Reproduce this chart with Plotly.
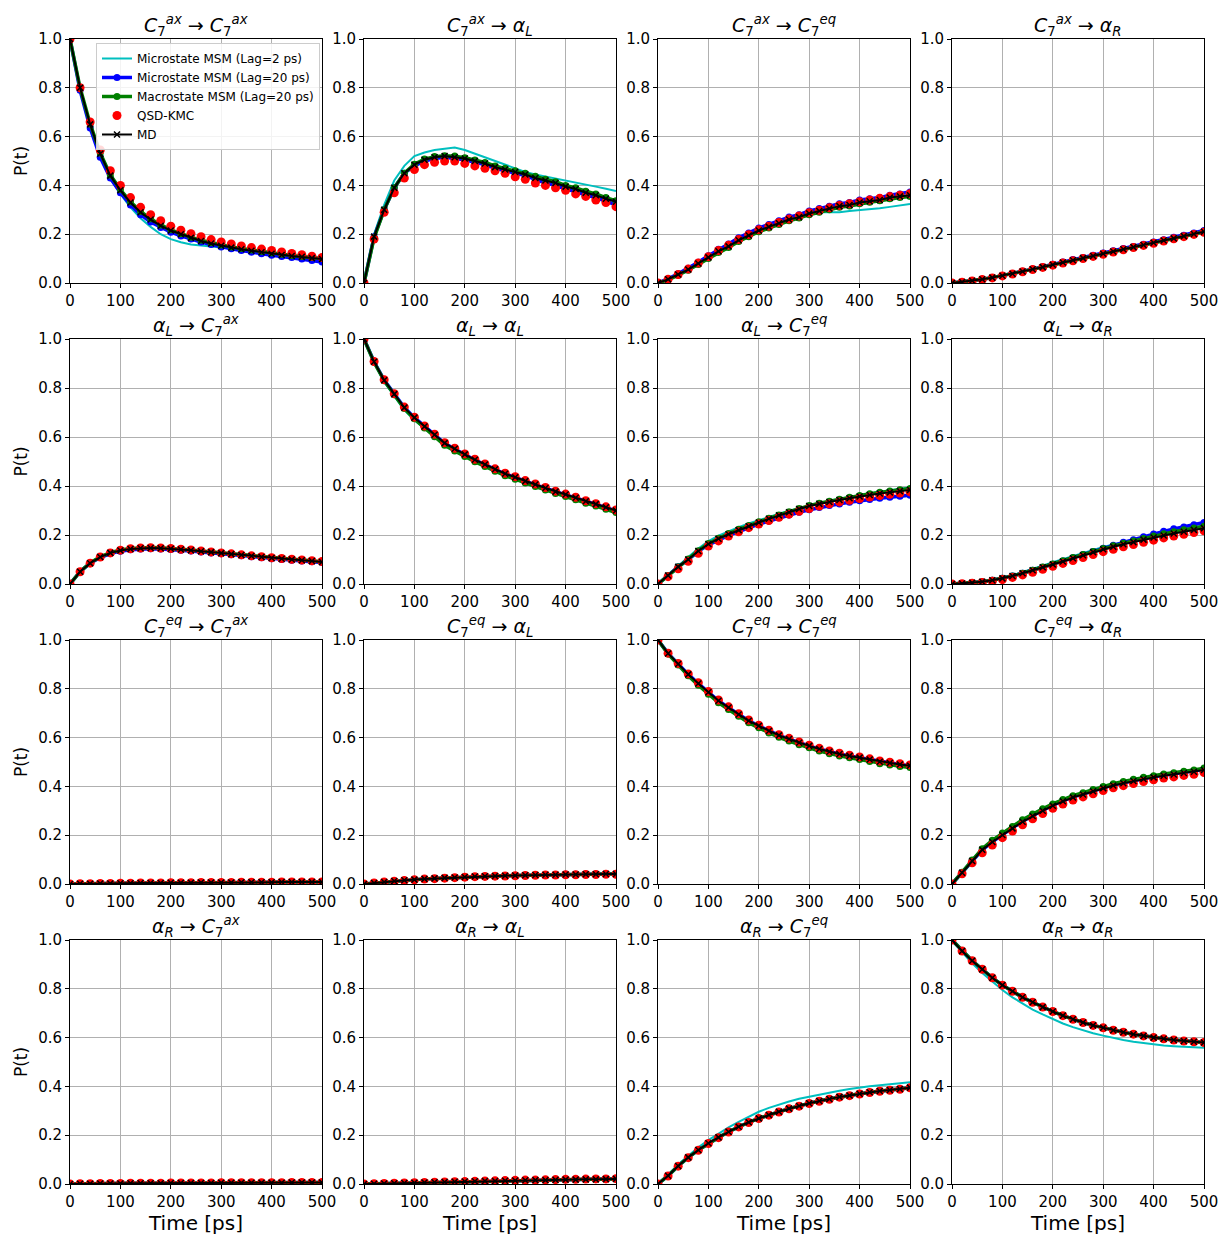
import plotly.graph_objects as go

W, H = 1222, 1235

# ---------------- data ----------------
time_ps = [0, 20, 40, 60, 80, 100, 120, 140, 160, 180, 200, 220, 240, 260, 280, 300,
           320, 340, 360, 380, 400, 420, 440, 460, 480, 500]

state_labels = {
    "ax": "<i>C</i><sub>7</sub><sup><i>ax</i></sup>",
    "aL": "<i>α</i><sub><i>L</i></sub>",
    "eq": "<i>C</i><sub>7</sub><sup><i>eq</i></sup>",
    "aR": "<i>α</i><sub><i>R</i></sub>",
}
states = ["ax", "aL", "eq", "aR"]

series_names = ["Microstate MSM (Lag=2 ps)", "Microstate MSM (Lag=20 ps)",
                "Macrostate MSM (Lag=20 ps)", "QSD-KMC", "MD"]

# C7ax -> C7ax
mic2_ax_ax = [1.0, 0.80, 0.645, 0.525, 0.43, 0.365, 0.31, 0.265, 0.23, 0.20, 0.18, 0.167, 0.158, 0.153, 0.149, 0.146, 0.142, 0.137, 0.132, 0.127, 0.122, 0.117, 0.112, 0.107, 0.102, 0.097]
mic20_ax_ax = [1.0, 0.79, 0.635, 0.515, 0.43, 0.37, 0.32, 0.28, 0.25, 0.227, 0.208, 0.193, 0.18, 0.168, 0.158, 0.148, 0.14, 0.133, 0.126, 0.12, 0.114, 0.109, 0.104, 0.098, 0.092, 0.086]
mac20_ax_ax = [1.0, 0.80, 0.652, 0.533, 0.443, 0.383, 0.333, 0.293, 0.263, 0.238, 0.218, 0.202, 0.188, 0.175, 0.165, 0.156, 0.148, 0.141, 0.135, 0.129, 0.123, 0.118, 0.113, 0.109, 0.104, 0.10]
qsd_ax_ax = [1.0, 0.80, 0.66, 0.545, 0.46, 0.40, 0.35, 0.31, 0.28, 0.255, 0.233, 0.216, 0.202, 0.19, 0.178, 0.168, 0.16, 0.152, 0.145, 0.139, 0.133, 0.127, 0.121, 0.116, 0.11, 0.105]
md_ax_ax = [1.0, 0.80, 0.65, 0.53, 0.44, 0.38, 0.33, 0.29, 0.26, 0.235, 0.215, 0.20, 0.185, 0.172, 0.162, 0.153, 0.145, 0.138, 0.132, 0.126, 0.12, 0.115, 0.111, 0.107, 0.102, 0.098]

# C7ax -> aL
mic2_ax_aL = [0, 0.20, 0.32, 0.42, 0.48, 0.52, 0.535, 0.545, 0.55, 0.555, 0.545, 0.53, 0.515, 0.50, 0.485, 0.47, 0.455, 0.445, 0.437, 0.43, 0.422, 0.413, 0.404, 0.395, 0.386, 0.377]
mic20_ax_aL = [0, 0.19, 0.30, 0.39, 0.45, 0.48, 0.50, 0.51, 0.515, 0.51, 0.505, 0.495, 0.485, 0.47, 0.46, 0.45, 0.44, 0.425, 0.41, 0.40, 0.385, 0.375, 0.36, 0.35, 0.335, 0.32]
mac20_ax_aL = [0, 0.185, 0.30, 0.39, 0.45, 0.487, 0.508, 0.518, 0.522, 0.52, 0.513, 0.504, 0.494, 0.48, 0.47, 0.46, 0.45, 0.437, 0.425, 0.415, 0.40, 0.39, 0.376, 0.365, 0.35, 0.337]
qsd_ax_aL = [0, 0.18, 0.29, 0.37, 0.43, 0.465, 0.485, 0.495, 0.50, 0.50, 0.49, 0.48, 0.47, 0.46, 0.45, 0.435, 0.425, 0.41, 0.40, 0.39, 0.38, 0.365, 0.355, 0.34, 0.33, 0.313]
md_ax_aL = [0, 0.19, 0.30, 0.39, 0.45, 0.485, 0.505, 0.515, 0.52, 0.515, 0.51, 0.50, 0.49, 0.475, 0.465, 0.455, 0.445, 0.43, 0.42, 0.41, 0.395, 0.385, 0.37, 0.36, 0.345, 0.333]

# C7ax -> C7eq
mic2_ax_eq = [0, 0.013, 0.03, 0.05, 0.075, 0.10, 0.13, 0.155, 0.18, 0.20, 0.22, 0.237, 0.25, 0.265, 0.275, 0.285, 0.29, 0.29, 0.29, 0.295, 0.298, 0.302, 0.306, 0.312, 0.318, 0.324]
mic20_ax_eq = [0, 0.017, 0.038, 0.06, 0.085, 0.112, 0.138, 0.16, 0.185, 0.205, 0.225, 0.24, 0.255, 0.27, 0.28, 0.295, 0.305, 0.315, 0.325, 0.33, 0.34, 0.345, 0.35, 0.36, 0.365, 0.373]
mac20_ax_eq = [0, 0.013, 0.032, 0.052, 0.076, 0.10, 0.125, 0.146, 0.17, 0.19, 0.21, 0.225, 0.24, 0.255, 0.266, 0.28, 0.29, 0.30, 0.31, 0.316, 0.325, 0.331, 0.337, 0.345, 0.35, 0.355]
qsd_ax_eq = [0, 0.015, 0.035, 0.057, 0.082, 0.108, 0.133, 0.155, 0.178, 0.198, 0.218, 0.233, 0.248, 0.262, 0.275, 0.288, 0.298, 0.308, 0.318, 0.325, 0.333, 0.34, 0.347, 0.354, 0.36, 0.366]
md_ax_eq = [0, 0.015, 0.035, 0.055, 0.08, 0.105, 0.13, 0.15, 0.175, 0.195, 0.215, 0.23, 0.245, 0.26, 0.27, 0.285, 0.295, 0.305, 0.315, 0.32, 0.33, 0.335, 0.34, 0.35, 0.355, 0.36]

# C7ax -> aR
mic2_ax_aR = [0, 0.004, 0.009, 0.015, 0.022, 0.03, 0.038, 0.047, 0.056, 0.065, 0.075, 0.084, 0.093, 0.102, 0.111, 0.12, 0.129, 0.138, 0.147, 0.156, 0.165, 0.174, 0.183, 0.192, 0.201, 0.21]
mic20_ax_aR = [0, 0.004, 0.009, 0.015, 0.022, 0.03, 0.039, 0.048, 0.057, 0.067, 0.077, 0.086, 0.096, 0.105, 0.114, 0.123, 0.132, 0.141, 0.15, 0.159, 0.168, 0.177, 0.187, 0.196, 0.205, 0.215]
mac20_ax_aR = [0, 0.004, 0.009, 0.015, 0.022, 0.03, 0.038, 0.047, 0.056, 0.065, 0.074, 0.083, 0.092, 0.101, 0.11, 0.119, 0.128, 0.137, 0.146, 0.155, 0.164, 0.173, 0.182, 0.191, 0.2, 0.209]
qsd_ax_aR = [0, 0.003, 0.008, 0.014, 0.021, 0.029, 0.037, 0.046, 0.055, 0.064, 0.073, 0.082, 0.091, 0.1, 0.109, 0.118, 0.127, 0.136, 0.145, 0.154, 0.163, 0.172, 0.181, 0.19, 0.199, 0.208]
md_ax_aR = [0, 0.004, 0.009, 0.015, 0.022, 0.03, 0.038, 0.047, 0.056, 0.065, 0.075, 0.084, 0.093, 0.102, 0.111, 0.12, 0.129, 0.138, 0.147, 0.156, 0.165, 0.174, 0.183, 0.192, 0.201, 0.21]

# aL -> C7ax
mic2_aL_ax = [0, 0.052, 0.088, 0.112, 0.128, 0.138, 0.144, 0.147, 0.148, 0.147, 0.145, 0.142, 0.138, 0.134, 0.13, 0.126, 0.122, 0.118, 0.114, 0.11, 0.106, 0.102, 0.099, 0.096, 0.093, 0.09]
mic20_aL_ax = [0, 0.05, 0.085, 0.108, 0.124, 0.134, 0.14, 0.143, 0.144, 0.143, 0.141, 0.138, 0.135, 0.131, 0.127, 0.123, 0.119, 0.115, 0.111, 0.107, 0.103, 0.1, 0.097, 0.094, 0.091, 0.088]
mac20_aL_ax = [0, 0.05, 0.086, 0.111, 0.128, 0.139, 0.145, 0.148, 0.149, 0.148, 0.146, 0.143, 0.139, 0.135, 0.131, 0.127, 0.123, 0.119, 0.115, 0.111, 0.107, 0.104, 0.101, 0.098, 0.095, 0.091]
qsd_aL_ax = [0, 0.05, 0.085, 0.11, 0.127, 0.138, 0.144, 0.147, 0.148, 0.147, 0.145, 0.142, 0.139, 0.135, 0.131, 0.127, 0.123, 0.119, 0.115, 0.111, 0.107, 0.104, 0.101, 0.098, 0.095, 0.092]
md_aL_ax = [0, 0.05, 0.085, 0.11, 0.127, 0.137, 0.143, 0.146, 0.147, 0.146, 0.144, 0.141, 0.138, 0.134, 0.13, 0.126, 0.122, 0.118, 0.114, 0.11, 0.106, 0.103, 0.1, 0.097, 0.094, 0.09]

# aL -> aL
mic2_aL_aL = [1.0, 0.905, 0.825, 0.765, 0.71, 0.668, 0.634, 0.602, 0.57, 0.549, 0.527, 0.505, 0.486, 0.466, 0.448, 0.434, 0.418, 0.404, 0.39, 0.375, 0.363, 0.35, 0.336, 0.324, 0.311, 0.298]
mic20_aL_aL = [1.0, 0.907, 0.832, 0.775, 0.72, 0.679, 0.643, 0.609, 0.574, 0.551, 0.528, 0.506, 0.487, 0.467, 0.449, 0.435, 0.419, 0.405, 0.391, 0.376, 0.364, 0.351, 0.337, 0.325, 0.312, 0.299]
mac20_aL_aL = [1.0, 0.905, 0.83, 0.772, 0.716, 0.674, 0.637, 0.601, 0.566, 0.543, 0.52, 0.499, 0.48, 0.46, 0.442, 0.428, 0.412, 0.398, 0.384, 0.369, 0.357, 0.344, 0.33, 0.318, 0.305, 0.292]
qsd_aL_aL = [1.0, 0.908, 0.834, 0.777, 0.722, 0.681, 0.645, 0.611, 0.577, 0.554, 0.531, 0.509, 0.49, 0.47, 0.452, 0.438, 0.422, 0.408, 0.394, 0.379, 0.367, 0.354, 0.34, 0.328, 0.315, 0.302]
md_aL_aL = [1.0, 0.907, 0.832, 0.775, 0.72, 0.679, 0.643, 0.609, 0.575, 0.552, 0.529, 0.507, 0.488, 0.468, 0.45, 0.436, 0.42, 0.406, 0.392, 0.377, 0.365, 0.352, 0.338, 0.326, 0.313, 0.30]

# aL -> C7eq
mic2_aL_eq = [0, 0.038, 0.076, 0.11, 0.145, 0.175, 0.197, 0.215, 0.232, 0.247, 0.261, 0.274, 0.287, 0.299, 0.31, 0.321, 0.331, 0.34, 0.348, 0.356, 0.363, 0.37, 0.377, 0.383, 0.389, 0.395]
mic20_aL_eq = [0, 0.035, 0.07, 0.10, 0.133, 0.16, 0.18, 0.198, 0.214, 0.23, 0.244, 0.257, 0.27, 0.282, 0.293, 0.303, 0.312, 0.32, 0.327, 0.334, 0.34, 0.345, 0.35, 0.354, 0.358, 0.362]
mac20_aL_eq = [0, 0.035, 0.07, 0.102, 0.136, 0.165, 0.187, 0.206, 0.223, 0.239, 0.254, 0.268, 0.282, 0.295, 0.308, 0.32, 0.33, 0.338, 0.346, 0.354, 0.361, 0.368, 0.374, 0.38, 0.385, 0.39]
qsd_aL_eq = [0, 0.03, 0.062, 0.093, 0.125, 0.155, 0.176, 0.196, 0.213, 0.23, 0.245, 0.259, 0.272, 0.285, 0.297, 0.308, 0.318, 0.327, 0.335, 0.342, 0.349, 0.355, 0.361, 0.366, 0.371, 0.376]
md_aL_eq = [0, 0.035, 0.07, 0.10, 0.135, 0.163, 0.185, 0.203, 0.22, 0.236, 0.251, 0.266, 0.28, 0.293, 0.306, 0.318, 0.327, 0.335, 0.343, 0.35, 0.357, 0.363, 0.369, 0.374, 0.379, 0.384]

# aL -> aR
mic2_aL_aR = [0, 0.002, 0.005, 0.01, 0.016, 0.025, 0.036, 0.048, 0.061, 0.075, 0.089, 0.102, 0.115, 0.128, 0.14, 0.151, 0.161, 0.171, 0.181, 0.191, 0.2, 0.209, 0.217, 0.225, 0.232, 0.239]
mic20_aL_aR = [0, 0.002, 0.005, 0.009, 0.015, 0.023, 0.033, 0.044, 0.056, 0.068, 0.081, 0.094, 0.107, 0.12, 0.133, 0.146, 0.158, 0.17, 0.181, 0.193, 0.204, 0.215, 0.225, 0.233, 0.242, 0.251]
mac20_aL_aR = [0, 0.002, 0.005, 0.009, 0.015, 0.023, 0.033, 0.044, 0.056, 0.069, 0.082, 0.095, 0.108, 0.12, 0.133, 0.145, 0.156, 0.166, 0.176, 0.186, 0.196, 0.205, 0.213, 0.221, 0.229, 0.236]
qsd_aL_aR = [0, 0.001, 0.003, 0.006, 0.011, 0.018, 0.027, 0.037, 0.048, 0.06, 0.072, 0.084, 0.096, 0.108, 0.12, 0.132, 0.142, 0.152, 0.161, 0.17, 0.179, 0.188, 0.196, 0.203, 0.21, 0.217]
md_aL_aR = [0, 0.002, 0.005, 0.009, 0.015, 0.023, 0.033, 0.044, 0.056, 0.068, 0.08, 0.092, 0.105, 0.117, 0.13, 0.142, 0.152, 0.162, 0.171, 0.181, 0.19, 0.198, 0.206, 0.213, 0.221, 0.228]

# C7eq -> C7ax
mic2_eq_ax = [0, 0.001, 0.001, 0.002, 0.002, 0.003, 0.003, 0.004, 0.004, 0.004, 0.005, 0.005, 0.005, 0.006, 0.006, 0.006, 0.006, 0.007, 0.007, 0.007, 0.007, 0.008, 0.008, 0.008, 0.008, 0.008]
mic20_eq_ax = [0, 0.001, 0.001, 0.002, 0.002, 0.003, 0.003, 0.004, 0.004, 0.004, 0.005, 0.005, 0.005, 0.006, 0.006, 0.006, 0.006, 0.007, 0.007, 0.007, 0.007, 0.008, 0.008, 0.008, 0.008, 0.008]
mac20_eq_ax = [0, 0.001, 0.001, 0.002, 0.002, 0.003, 0.003, 0.004, 0.004, 0.004, 0.005, 0.005, 0.005, 0.006, 0.006, 0.006, 0.006, 0.007, 0.007, 0.007, 0.007, 0.008, 0.008, 0.008, 0.008, 0.008]
qsd_eq_ax = [0, 0.001, 0.001, 0.002, 0.002, 0.003, 0.003, 0.004, 0.004, 0.004, 0.005, 0.005, 0.005, 0.006, 0.006, 0.006, 0.006, 0.007, 0.007, 0.007, 0.007, 0.008, 0.008, 0.008, 0.008, 0.008]
md_eq_ax = [0, 0.001, 0.001, 0.002, 0.002, 0.003, 0.003, 0.004, 0.004, 0.004, 0.005, 0.005, 0.005, 0.006, 0.006, 0.006, 0.006, 0.007, 0.007, 0.007, 0.007, 0.008, 0.008, 0.008, 0.008, 0.008]

# C7eq -> aL
mic2_eq_aL = [0, 0.004, 0.008, 0.012, 0.015, 0.018, 0.021, 0.023, 0.025, 0.027, 0.029, 0.031, 0.032, 0.033, 0.034, 0.035, 0.036, 0.037, 0.038, 0.038, 0.039, 0.039, 0.04, 0.04, 0.041, 0.041]
mic20_eq_aL = [0, 0.004, 0.008, 0.012, 0.015, 0.018, 0.021, 0.023, 0.025, 0.027, 0.029, 0.031, 0.032, 0.033, 0.034, 0.035, 0.036, 0.037, 0.038, 0.039, 0.04, 0.04, 0.041, 0.041, 0.042, 0.042]
mac20_eq_aL = [0, 0.004, 0.008, 0.012, 0.015, 0.018, 0.021, 0.023, 0.025, 0.027, 0.029, 0.031, 0.032, 0.033, 0.034, 0.035, 0.036, 0.037, 0.038, 0.038, 0.039, 0.039, 0.04, 0.04, 0.041, 0.041]
qsd_eq_aL = [0, 0.004, 0.008, 0.011, 0.014, 0.017, 0.02, 0.022, 0.024, 0.026, 0.028, 0.03, 0.031, 0.032, 0.033, 0.034, 0.035, 0.036, 0.037, 0.037, 0.038, 0.038, 0.039, 0.039, 0.04, 0.04]
md_eq_aL = [0, 0.004, 0.008, 0.012, 0.015, 0.018, 0.021, 0.023, 0.025, 0.027, 0.029, 0.031, 0.032, 0.033, 0.034, 0.035, 0.036, 0.037, 0.038, 0.038, 0.039, 0.039, 0.04, 0.04, 0.041, 0.041]

# C7eq -> C7eq
mic2_eq_eq = [1.0, 0.944, 0.9, 0.857, 0.82, 0.783, 0.748, 0.719, 0.691, 0.665, 0.644, 0.623, 0.605, 0.59, 0.575, 0.562, 0.549, 0.538, 0.529, 0.521, 0.514, 0.506, 0.497, 0.492, 0.486, 0.481]
mic20_eq_eq = [1.0, 0.945, 0.902, 0.859, 0.822, 0.786, 0.751, 0.723, 0.695, 0.669, 0.648, 0.627, 0.609, 0.594, 0.579, 0.566, 0.553, 0.542, 0.533, 0.525, 0.518, 0.51, 0.501, 0.496, 0.49, 0.485]
mac20_eq_eq = [1.0, 0.943, 0.898, 0.853, 0.815, 0.778, 0.743, 0.715, 0.687, 0.661, 0.64, 0.619, 0.601, 0.586, 0.571, 0.558, 0.545, 0.534, 0.525, 0.517, 0.51, 0.502, 0.493, 0.488, 0.482, 0.477]
qsd_eq_eq = [1.0, 0.946, 0.904, 0.861, 0.825, 0.789, 0.754, 0.726, 0.698, 0.672, 0.651, 0.63, 0.612, 0.597, 0.582, 0.569, 0.556, 0.545, 0.536, 0.528, 0.521, 0.513, 0.504, 0.499, 0.493, 0.488]
md_eq_eq = [1.0, 0.945, 0.902, 0.859, 0.822, 0.786, 0.751, 0.723, 0.695, 0.669, 0.648, 0.627, 0.609, 0.594, 0.579, 0.566, 0.553, 0.542, 0.533, 0.525, 0.518, 0.51, 0.501, 0.496, 0.49, 0.485]

# C7eq -> aR
mic2_eq_aR = [0, 0.05, 0.1, 0.145, 0.18, 0.21, 0.238, 0.264, 0.288, 0.309, 0.329, 0.347, 0.362, 0.375, 0.388, 0.4, 0.411, 0.42, 0.429, 0.437, 0.444, 0.45, 0.456, 0.462, 0.467, 0.473]
mic20_eq_aR = [0, 0.047, 0.095, 0.14, 0.173, 0.203, 0.23, 0.257, 0.281, 0.302, 0.323, 0.341, 0.357, 0.369, 0.382, 0.395, 0.406, 0.415, 0.424, 0.432, 0.439, 0.446, 0.451, 0.457, 0.462, 0.469]
mac20_eq_aR = [0, 0.048, 0.098, 0.144, 0.179, 0.209, 0.236, 0.263, 0.287, 0.308, 0.328, 0.346, 0.362, 0.374, 0.387, 0.4, 0.411, 0.42, 0.429, 0.437, 0.444, 0.451, 0.456, 0.462, 0.467, 0.475]
qsd_eq_aR = [0, 0.042, 0.087, 0.128, 0.16, 0.19, 0.217, 0.243, 0.267, 0.289, 0.31, 0.328, 0.344, 0.357, 0.37, 0.383, 0.394, 0.403, 0.412, 0.42, 0.427, 0.434, 0.439, 0.445, 0.45, 0.457]
md_eq_aR = [0, 0.046, 0.094, 0.14, 0.172, 0.201, 0.228, 0.255, 0.279, 0.30, 0.321, 0.339, 0.355, 0.367, 0.38, 0.393, 0.404, 0.413, 0.422, 0.43, 0.437, 0.444, 0.449, 0.455, 0.46, 0.467]

# aR -> C7ax
mic2_aR_ax = [0, 0.001, 0.001, 0.002, 0.002, 0.002, 0.003, 0.003, 0.003, 0.003, 0.004, 0.004, 0.004, 0.004, 0.004, 0.005, 0.005, 0.005, 0.005, 0.005, 0.005, 0.005, 0.006, 0.006, 0.006, 0.006]
mic20_aR_ax = [0, 0.001, 0.001, 0.002, 0.002, 0.002, 0.003, 0.003, 0.003, 0.003, 0.004, 0.004, 0.004, 0.004, 0.004, 0.005, 0.005, 0.005, 0.005, 0.005, 0.005, 0.005, 0.006, 0.006, 0.006, 0.006]
mac20_aR_ax = [0, 0.001, 0.001, 0.002, 0.002, 0.002, 0.003, 0.003, 0.003, 0.003, 0.004, 0.004, 0.004, 0.004, 0.004, 0.005, 0.005, 0.005, 0.005, 0.005, 0.005, 0.005, 0.006, 0.006, 0.006, 0.006]
qsd_aR_ax = [0, 0.001, 0.001, 0.002, 0.002, 0.002, 0.003, 0.003, 0.003, 0.003, 0.004, 0.004, 0.004, 0.004, 0.004, 0.005, 0.005, 0.005, 0.005, 0.005, 0.005, 0.005, 0.006, 0.006, 0.006, 0.006]
md_aR_ax = [0, 0.001, 0.001, 0.002, 0.002, 0.002, 0.003, 0.003, 0.003, 0.003, 0.004, 0.004, 0.004, 0.004, 0.004, 0.005, 0.005, 0.005, 0.005, 0.005, 0.005, 0.005, 0.006, 0.006, 0.006, 0.006]

# aR -> aL
mic2_aR_aL = [0, 0.001, 0.002, 0.003, 0.004, 0.005, 0.006, 0.007, 0.008, 0.009, 0.01, 0.011, 0.012, 0.012, 0.013, 0.014, 0.015, 0.016, 0.016, 0.017, 0.018, 0.018, 0.019, 0.019, 0.02, 0.021]
mic20_aR_aL = [0, 0.001, 0.002, 0.003, 0.004, 0.005, 0.006, 0.007, 0.008, 0.009, 0.01, 0.011, 0.012, 0.013, 0.014, 0.015, 0.016, 0.016, 0.017, 0.018, 0.018, 0.019, 0.02, 0.02, 0.021, 0.022]
mac20_aR_aL = [0, 0.001, 0.002, 0.003, 0.004, 0.005, 0.006, 0.007, 0.008, 0.009, 0.01, 0.011, 0.012, 0.012, 0.013, 0.014, 0.015, 0.016, 0.016, 0.017, 0.018, 0.018, 0.019, 0.019, 0.02, 0.021]
qsd_aR_aL = [0, 0.001, 0.002, 0.003, 0.004, 0.005, 0.006, 0.007, 0.008, 0.009, 0.01, 0.011, 0.012, 0.013, 0.014, 0.015, 0.016, 0.016, 0.017, 0.018, 0.019, 0.019, 0.02, 0.021, 0.021, 0.022]
md_aR_aL = [0, 0.001, 0.002, 0.003, 0.004, 0.005, 0.006, 0.007, 0.008, 0.009, 0.01, 0.011, 0.012, 0.012, 0.013, 0.014, 0.015, 0.016, 0.016, 0.017, 0.018, 0.018, 0.019, 0.019, 0.02, 0.021]

# aR -> C7eq
mic2_aR_eq = [0, 0.037, 0.08, 0.117, 0.15, 0.18, 0.207, 0.232, 0.255, 0.276, 0.296, 0.312, 0.326, 0.338, 0.349, 0.358, 0.367, 0.375, 0.382, 0.389, 0.396, 0.401, 0.405, 0.409, 0.413, 0.417]
mic20_aR_eq = [0, 0.034, 0.074, 0.109, 0.139, 0.167, 0.191, 0.214, 0.235, 0.253, 0.269, 0.283, 0.296, 0.309, 0.32, 0.331, 0.34, 0.348, 0.357, 0.363, 0.37, 0.376, 0.381, 0.385, 0.389, 0.395]
mac20_aR_eq = [0, 0.034, 0.074, 0.109, 0.139, 0.167, 0.191, 0.214, 0.235, 0.253, 0.269, 0.283, 0.296, 0.309, 0.32, 0.331, 0.34, 0.348, 0.357, 0.363, 0.37, 0.376, 0.381, 0.385, 0.389, 0.395]
qsd_aR_eq = [0, 0.033, 0.073, 0.108, 0.138, 0.166, 0.19, 0.213, 0.234, 0.252, 0.268, 0.282, 0.295, 0.308, 0.319, 0.33, 0.339, 0.347, 0.356, 0.362, 0.369, 0.375, 0.38, 0.384, 0.388, 0.394]
md_aR_eq = [0, 0.034, 0.074, 0.109, 0.139, 0.167, 0.191, 0.214, 0.235, 0.253, 0.269, 0.283, 0.296, 0.309, 0.32, 0.331, 0.34, 0.348, 0.357, 0.363, 0.37, 0.376, 0.381, 0.385, 0.389, 0.395]

# aR -> aR
mic2_aR_aR = [1.0, 0.95, 0.905, 0.865, 0.83, 0.795, 0.765, 0.74, 0.715, 0.695, 0.675, 0.658, 0.643, 0.63, 0.618, 0.608, 0.598, 0.59, 0.583, 0.577, 0.572, 0.568, 0.565, 0.562, 0.56, 0.558]
mic20_aR_aR = [1.0, 0.955, 0.915, 0.88, 0.845, 0.815, 0.79, 0.765, 0.745, 0.725, 0.707, 0.69, 0.675, 0.662, 0.65, 0.64, 0.63, 0.622, 0.614, 0.607, 0.60, 0.595, 0.59, 0.586, 0.583, 0.58]
mac20_aR_aR = [1.0, 0.955, 0.915, 0.88, 0.845, 0.815, 0.79, 0.765, 0.745, 0.725, 0.707, 0.69, 0.675, 0.662, 0.65, 0.64, 0.63, 0.622, 0.614, 0.607, 0.60, 0.595, 0.59, 0.586, 0.583, 0.58]
qsd_aR_aR = [1.0, 0.955, 0.915, 0.88, 0.845, 0.815, 0.79, 0.765, 0.745, 0.725, 0.707, 0.69, 0.675, 0.662, 0.65, 0.64, 0.63, 0.622, 0.614, 0.607, 0.60, 0.595, 0.59, 0.586, 0.583, 0.58]
md_aR_aR = [1.0, 0.955, 0.915, 0.88, 0.845, 0.815, 0.79, 0.765, 0.745, 0.725, 0.707, 0.69, 0.675, 0.662, 0.65, 0.64, 0.63, 0.622, 0.614, 0.607, 0.60, 0.595, 0.59, 0.586, 0.583, 0.58]

g = globals()
panel_data = {}
for s_from in states:
    for s_to in states:
        key = f"{s_from}_{s_to}"
        panel_data[(s_from, s_to)] = [g["mic2_" + key], g["mic20_" + key], g["mac20_" + key],
                                      g["qsd_" + key], g["md_" + key]]

# ---------------- layout geometry (pixels) ----------------
col_px = [(70, 322), (364, 616), (658, 910), (952, 1204)]
row_px = [(39, 283), (339, 584), (640, 884), (940, 1184)]

FONT = "DejaVu Sans"
fig = go.Figure()
layout = {}
annotations = []

for r, s_from in enumerate(states):
    for c, s_to in enumerate(states):
        idx = r * 4 + c + 1
        xa = "x" if idx == 1 else f"x{idx}"
        ya = "y" if idx == 1 else f"y{idx}"
        x0, x1 = col_px[c]
        y0, y1 = row_px[r]
        mic2, mic20, mac20, qsd, md = panel_data[(s_from, s_to)]
        show = idx == 1
        fig.add_trace(go.Scatter(x=time_ps, y=mic2, mode="lines", name=series_names[0],
                                 line=dict(color="#00BFBF", width=2), xaxis=xa, yaxis=ya,
                                 showlegend=show, legendrank=1))
        fig.add_trace(go.Scatter(x=time_ps, y=mic20, mode="lines+markers", name=series_names[1],
                                 line=dict(color="#0000FF", width=3.5),
                                 marker=dict(color="#0000FF", size=7, symbol="circle"),
                                 xaxis=xa, yaxis=ya, showlegend=show, legendrank=2))
        fig.add_trace(go.Scatter(x=time_ps, y=mac20, mode="lines+markers", name=series_names[2],
                                 line=dict(color="#008000", width=3.5),
                                 marker=dict(color="#008000", size=7, symbol="circle"),
                                 xaxis=xa, yaxis=ya, showlegend=show, legendrank=3))
        fig.add_trace(go.Scatter(x=time_ps, y=qsd, mode="markers", name=series_names[3],
                                 marker=dict(color="#FF0000", size=9, symbol="circle"),
                                 xaxis=xa, yaxis=ya, showlegend=show, legendrank=4))
        fig.add_trace(go.Scatter(x=time_ps, y=md, mode="lines+markers", name=series_names[4],
                                 line=dict(color="#000000", width=2),
                                 marker=dict(color="#000000", size=6, symbol="x-thin-open",
                                             line=dict(color="#000000", width=1.5)),
                                 xaxis=xa, yaxis=ya, showlegend=show, legendrank=5))

        common = dict(showline=True, mirror=True, linecolor="#000000", linewidth=1,
                      ticks="outside", ticklen=4, tickcolor="#000000", automargin=False,
                      showgrid=True, gridcolor="#b0b0b0", gridwidth=1, zeroline=False,
                      tickfont=dict(family=FONT, size=15, color="#000000"))
        xkey = "xaxis" if idx == 1 else f"xaxis{idx}"
        ykey = "yaxis" if idx == 1 else f"yaxis{idx}"
        layout[xkey] = dict(common, domain=[x0 / W, x1 / W], range=[0, 500],
                            tickvals=[0, 100, 200, 300, 400, 500], anchor=ya)
        layout[ykey] = dict(common, domain=[1 - y1 / H, 1 - y0 / H], range=[0, 1.0],
                            tickvals=[0, 0.2, 0.4, 0.6, 0.8, 1.0], tickformat=".1f", anchor=xa)
        if r == 3:
            layout[xkey]["title"] = dict(text="Time [ps]", font=dict(family=FONT, size=20, color="#000"),
                                         standoff=4)
        if c == 0:
            layout[ykey]["title"] = dict(text="P(t)", font=dict(family=FONT, size=17, color="#000"),
                                         standoff=6)
        annotations.append(dict(
            text=f"{state_labels[s_from]} → {state_labels[s_to]}",
            x=(x0 + x1) / 2 / W, y=1 - (y0 + 2) / H, xref="paper", yref="paper",
            xanchor="center", yanchor="bottom", showarrow=False,
            font=dict(family=FONT, size=19, color="#000000")))

fig.update_layout(
    width=W, height=H,
    margin=dict(l=0, r=0, t=0, b=0, autoexpand=False),
    paper_bgcolor="white", plot_bgcolor="white",
    annotations=annotations,
    showlegend=True,
    legend=dict(x=96 / W, y=1 - 43 / H, xanchor="left", yanchor="top",
                bgcolor="rgba(255,255,255,0.85)", bordercolor="#cccccc", borderwidth=1,
                font=dict(family=FONT, size=12, color="#000"), tracegroupgap=0,
                itemwidth=30),
    **layout,
)

fig.write_html("out.html")
